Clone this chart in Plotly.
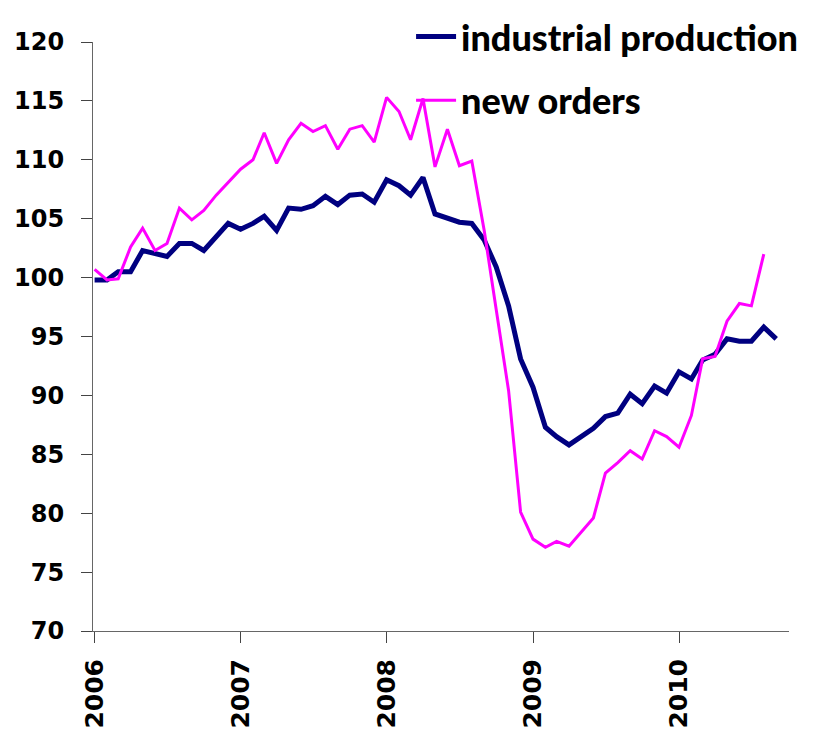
import pandas as pd
import plotly.graph_objects as go

# Monthly index values, Jan 2006 onward
industrial_production = [
    99.8, 99.8, 100.5, 100.5, 102.3, 102.1, 101.8, 102.9, 102.9, 102.3, 103.5, 104.6,
    104.1, 104.6, 105.2, 104.0, 105.9, 105.8, 106.1, 106.9, 106.2, 107.0, 107.1, 106.4,
    108.3, 107.8, 107.0, 108.5, 105.4, 105.1, 104.7, 104.6, 103.2, 100.9, 97.6, 93.1,
    90.7, 87.3, 86.5, 85.8, 86.5, 87.2, 88.2, 88.5, 90.1, 89.3, 90.8, 90.2,
    92.0, 91.4, 93.0, 93.5, 94.8, 94.6, 94.6, 95.8, 94.8,
]
new_orders = [
    100.7, 99.8, 99.9, 102.6, 104.2, 102.3, 102.9, 105.9, 104.9, 105.7, 107.0, 108.1,
    109.2, 110.0, 112.3, 109.7, 111.7, 113.1, 112.4, 112.9, 110.9, 112.6, 112.9, 111.5,
    115.3, 114.1, 111.7, 115.2, 109.4, 112.6, 109.5, 109.9, 104.0, 97.3, 90.4, 80.1,
    77.8, 77.1, 77.6, 77.2, 78.4, 79.6, 83.4, 84.3, 85.3, 84.6, 87.0, 86.5,
    85.6, 88.3, 93.1, 93.3, 96.3, 97.8, 97.6, 102.0,
]
start_month = "2006-01-01"
year_ticks = ["2006-01-01", "2007-01-01", "2008-01-01", "2009-01-01", "2010-01-01"]
year_labels = ["2006", "2007", "2008", "2009", "2010"]
y_ticks = [70, 75, 80, 85, 90, 95, 100, 105, 110, 115, 120]

ip_dates = pd.date_range(start_month, periods=len(industrial_production), freq="MS")
no_dates = pd.date_range(start_month, periods=len(new_orders), freq="MS")

FONT = "DejaVu Sans"

fig = go.Figure()
fig.add_trace(go.Scatter(
    x=ip_dates, y=industrial_production, mode="lines", name="industrial production",
    line=dict(color="#000080", width=5), legendgroup="a",
))
fig.add_trace(go.Scatter(
    x=no_dates, y=new_orders, mode="lines", name="new orders",
    line=dict(color="#FF00FF", width=3), legendgroup="b",
))

fig.update_layout(
    width=812, height=726,
    paper_bgcolor="white", plot_bgcolor="white",
    margin=dict(l=85, r=31, t=34, b=103, autoexpand=False),
    font=dict(family=FONT, color="black"),
    showlegend=True,
    legend=dict(
        x=0.457, y=1.06, xanchor="left", yanchor="top",
        font=dict(family="Lato", size=36, color="black", weight=900),
        bgcolor="rgba(0,0,0,0)", traceorder="grouped", tracegroupgap=14,
        itemwidth=40,
    ),
    xaxis=dict(
        range=["2005-12-28", "2010-10-03"],
        tickmode="array", tickvals=year_ticks, ticktext=year_labels,
        tickangle=-90, ticks="outside", ticklen=11, tickcolor="#444",
        showline=True, linecolor="#666", linewidth=1,
        showgrid=False, zeroline=False, automargin=False,
        tickfont=dict(family=FONT, size=25, color="black", weight="bold"),
        ticklabelstandoff=6,
    ),
    yaxis=dict(
        range=[70, 120], tickmode="array", tickvals=y_ticks,
        ticks="outside", ticklen=11, tickcolor="#444",
        showline=True, linecolor="#666", linewidth=1,
        showgrid=False, zeroline=False, automargin=False,
        tickfont=dict(family=FONT, size=24, color="black", weight="bold"),
        ticklabelstandoff=12,
    ),
)

fig.write_html("out.html")
